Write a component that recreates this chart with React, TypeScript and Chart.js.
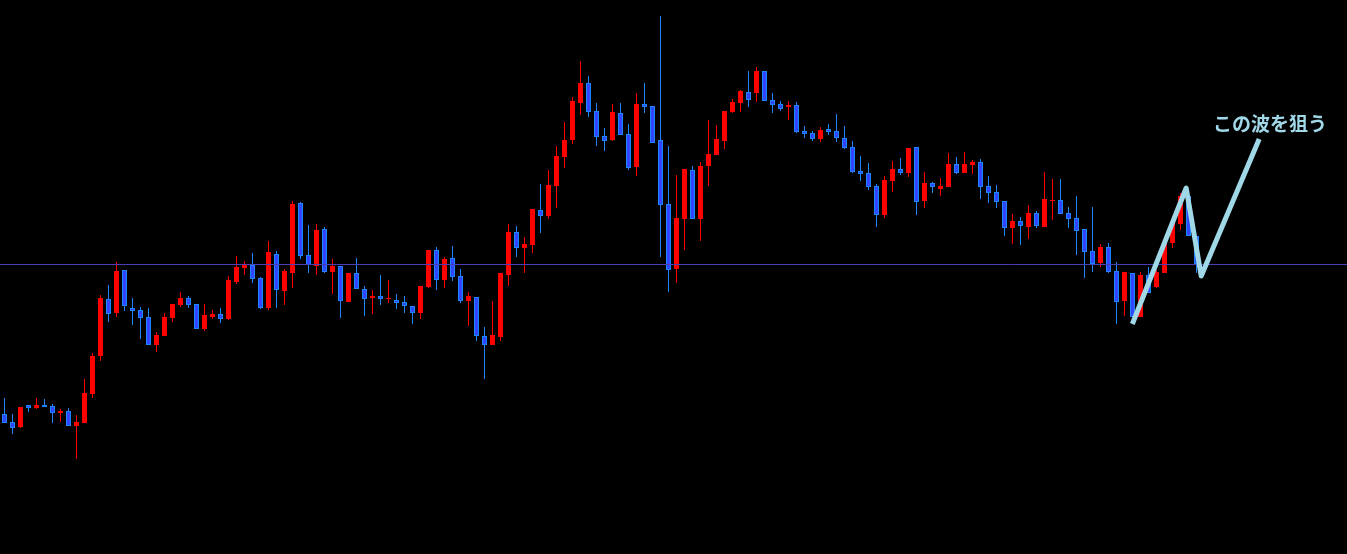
import { useEffect, useRef } from "react";
import { Chart, registerables } from "chart.js";

Chart.register(...registerables);

// OHLC values (arbitrary price units), one entry per candle, oldest first
const open = [
  140, 132, 127, 149, 146, 149, 148, 141, 143, 128,
  131, 160, 198, 255, 241, 284, 246, 244, 237, 209,
  218, 236, 249, 256, 250, 225, 237, 240, 235, 272,
  286, 289, 276, 246, 300, 263, 281, 351, 299, 288,
  325, 282, 288, 252, 281, 265, 256, 258, 255, 254,
  252, 248, 241, 267, 304, 274, 296, 278, 253, 257,
  218, 209, 217, 279, 322, 306, 309, 344, 338, 368,
  397, 414, 451, 471, 443, 418, 414, 441, 420, 387,
  450, 448, 414, 350, 285, 335, 384, 335, 388, 399,
  413, 442, 451, 462, 461, 483, 454, 450, 447, 449,
  423, 421, 415, 425, 423, 416, 407, 383, 381, 368,
  339, 373, 385, 381, 407, 353, 371, 365, 367, 390,
  381, 389, 392, 368, 362, 353, 326, 333, 327, 341,
  327, 353, 354, 341, 336, 325, 303, 291, 307, 283,
  253, 281, 237, 279, 267, 281, 311, 330, 358, 318,
];
const close = [
  131, 126, 147, 146, 149, 147, 141, 143, 128, 132,
  161, 198, 256, 240, 283, 248, 243, 236, 209, 219,
  237, 250, 256, 249, 225, 239, 240, 235, 274, 287,
  289, 275, 246, 302, 264, 283, 350, 298, 289, 324,
  282, 288, 253, 281, 265, 255, 258, 255, 256, 251,
  248, 241, 268, 304, 274, 295, 277, 253, 258, 218,
  209, 219, 281, 322, 306, 310, 345, 338, 369, 398,
  414, 453, 471, 442, 417, 413, 442, 419, 386, 450,
  447, 411, 349, 284, 336, 385, 335, 388, 400, 415,
  443, 452, 463, 454, 483, 453, 449, 445, 449, 422,
  420, 415, 424, 422, 416, 406, 382, 380, 367, 339,
  374, 385, 381, 406, 352, 371, 367, 368, 390, 381,
  390, 392, 367, 361, 352, 326, 333, 328, 341, 328,
  355, 354, 340, 335, 323, 302, 290, 307, 282, 252,
  282, 237, 279, 261, 282, 311, 332, 358, 318, 290,
];
const high = [
  156, 140, 147, 149, 156, 155, 150, 145, 146, 139,
  175, 201, 259, 269, 292, 284, 256, 247, 246, 222,
  241, 250, 262, 258, 250, 250, 244, 246, 278, 298,
  293, 301, 277, 313, 303, 285, 353, 352, 329, 330,
  327, 295, 288, 281, 296, 268, 264, 279, 274, 260,
  258, 248, 268, 304, 307, 297, 308, 285, 262, 257,
  227, 253, 281, 330, 328, 317, 345, 370, 384, 408,
  432, 457, 493, 478, 451, 426, 450, 451, 430, 461,
  471, 448, 538, 408, 379, 385, 388, 392, 434, 429,
  443, 455, 464, 483, 487, 483, 461, 453, 453, 452,
  428, 423, 427, 430, 440, 428, 413, 398, 391, 370,
  378, 393, 396, 406, 407, 382, 372, 376, 401, 397,
  402, 394, 395, 378, 369, 353, 340, 337, 349, 343,
  382, 375, 375, 347, 358, 325, 347, 310, 311, 292,
  282, 281, 282, 287, 284, 317, 332, 361, 364, 318,
];
const low = [
  131, 120, 126, 142, 145, 147, 131, 132, 128, 95,
  131, 156, 193, 232, 237, 243, 229, 215, 209, 202,
  218, 232, 247, 246, 225, 223, 235, 231, 234, 270,
  279, 271, 245, 244, 246, 249, 266, 295, 281, 279,
  281, 260, 236, 252, 265, 238, 240, 249, 251, 245,
  241, 230, 235, 266, 264, 266, 273, 251, 228, 213,
  175, 209, 213, 268, 297, 281, 301, 321, 335, 346,
  386, 410, 439, 437, 408, 403, 413, 419, 384, 378,
  441, 411, 297, 262, 271, 304, 335, 313, 368, 399,
  405, 441, 442, 447, 452, 453, 441, 443, 434, 421,
  416, 413, 412, 419, 412, 405, 381, 373, 364, 327,
  336, 362, 379, 377, 339, 346, 361, 358, 367, 380,
  381, 380, 355, 351, 346, 318, 310, 309, 315, 326,
  327, 334, 340, 326, 299, 276, 282, 287, 281, 230,
  238, 237, 237, 261, 266, 281, 306, 324, 318, 281,
];

// Horizontal level line
const LEVEL = 289.5;
// Annotation zigzag (candle index, price)
const waveX = [140.98, 147.71, 149.59, 156.84];
const waveY = [230, 366, 278, 415];
// Annotation label
const LABEL = "この波を狙う";
const labelX = 158.2;
const labelY = 430;

const RED = "#ff0000";
const BLUE_FILL = "#2f48ff";
const BLUE_EDGE = "#1e84ff";
const LEVEL_COLOR = "#4a3fb4";
const WAVE_COLOR = "#a0d8e8";

const X_MIN = -0.5625;
const X_MAX = X_MIN + 1347 / 8;

export default function App() {
  const ref = useRef<HTMLCanvasElement>(null);

  useEffect(() => {
    document.body.style.margin = "0";
    document.body.style.background = "#000";
    const idx = open.map((_, i) => i);
    const up = idx.map((i) => close[i] >= open[i]);

    const labelPlugin = {
      id: "waveLabel",
      afterDatasetsDraw(chart: any) {
        const { ctx, scales } = chart;
        const px = scales.x.getPixelForValue(labelX);
        const py = scales.y.getPixelForValue(labelY);
        ctx.save();
        ctx.font = "bold 19px 'Noto Sans CJK JP'";
        ctx.fillStyle = WAVE_COLOR;
        ctx.textAlign = "center";
        ctx.textBaseline = "middle";
        ctx.fillText(LABEL, px, py);
        ctx.restore();
      },
    };

    const chart = new Chart(ref.current!, {
      type: "bar",
      data: {
        datasets: [
          {
            type: "line",
            data: waveX.map((x, i) => ({ x, y: waveY[i] })),
            borderColor: WAVE_COLOR,
            borderWidth: 5,
            borderJoinStyle: "round",
            pointRadius: 0,
            tension: 0,
            order: 0,
          } as any,
          {
            type: "line",
            data: [
              { x: X_MIN - 5, y: LEVEL },
              { x: X_MAX + 5, y: LEVEL },
            ],
            borderColor: LEVEL_COLOR,
            borderWidth: 1,
            pointRadius: 0,
            order: 1,
          } as any,
          {
            type: "bar",
            data: idx.map((i) => ({ x: i, y: [open[i], close[i]] })),
            backgroundColor: up.map((u) => (u ? RED : BLUE_FILL)),
            borderColor: up.map((u) => (u ? RED : BLUE_EDGE)),
            borderWidth: 1,
            borderSkipped: false,
            barThickness: 5,
            grouped: false,
            minBarLength: 1,
            inflateAmount: 0,
            order: 2,
          } as any,
          {
            type: "bar",
            data: idx.map((i) => ({ x: i, y: [low[i], high[i]] })),
            backgroundColor: up.map((u) => (u ? RED : BLUE_EDGE)),
            borderWidth: 0,
            barThickness: 1,
            grouped: false,
            inflateAmount: 0,
            order: 3,
          } as any,
        ],
      },
      options: {
        responsive: false,
        animation: false,
        events: [],
        layout: { padding: 0 },
        plugins: { legend: { display: false }, tooltip: { enabled: false } },
        scales: {
          x: { type: "linear", display: false, min: X_MIN, max: X_MAX, offset: false },
          y: { type: "linear", display: false, min: 0, max: 554 },
        },
      } as any,
      plugins: [labelPlugin],
    });
    return () => chart.destroy();
  }, []);

  return (
    <canvas
      ref={ref}
      width={1347}
      height={554}
      style={{ display: "block", background: "#000" }}
    />
  );
}
